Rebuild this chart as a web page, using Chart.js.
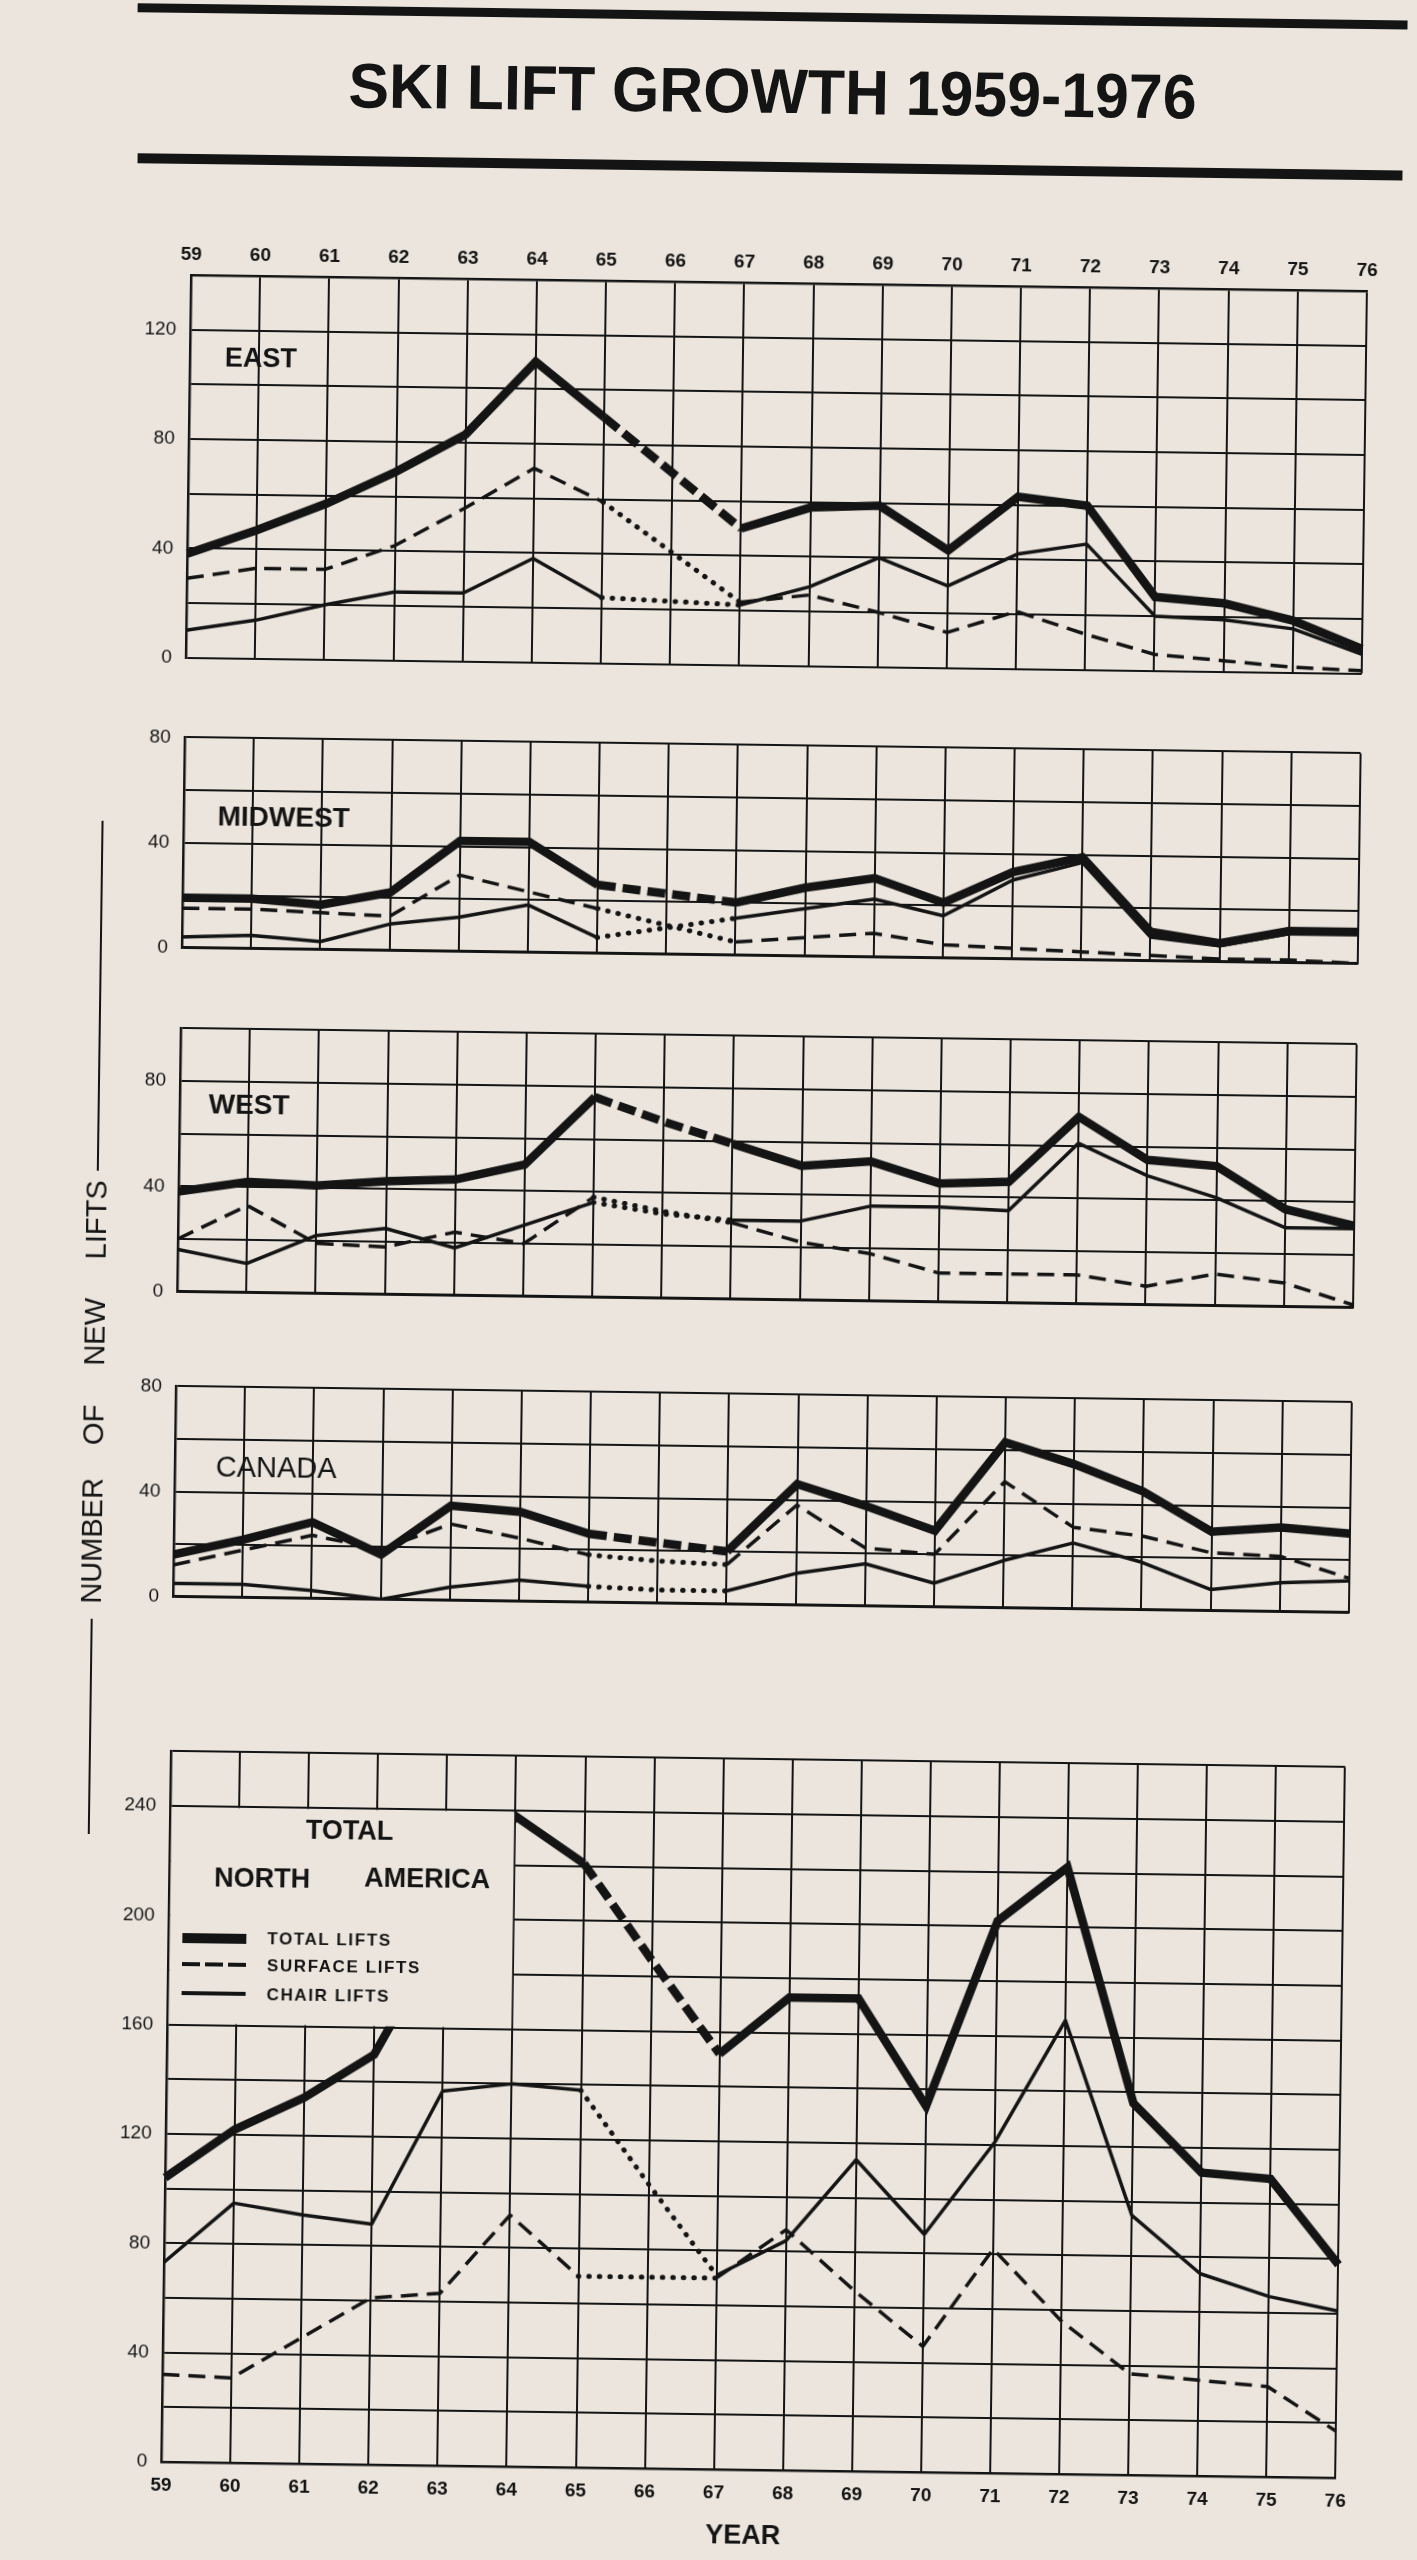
<!DOCTYPE html>
<html>
<head>
<meta charset="utf-8">
<script src="https://cdn.jsdelivr.net/npm/chart.js@4.4.1/dist/chart.umd.min.js"></script>
<style>
html,body{margin:0;padding:0;background:#ebe5dd;}
body{width:1417px;height:2560px;overflow:hidden;position:relative;font-family:"Liberation Sans",Arial,sans-serif;color:#141414;}
#page{position:absolute;left:0;top:0;width:1417px;height:2560px;transform-origin:191px 275px;transform:rotate(0.78deg);}
.abs{position:absolute;white-space:nowrap;}
.rule{position:absolute;background:#141414;}
canvas{position:absolute;}
.vt{position:absolute;width:200px;height:30px;line-height:30px;text-align:center;font-size:29px;transform:rotate(-90deg);white-space:nowrap;}
.lg{position:absolute;font-size:17px;line-height:17px;font-weight:bold;letter-spacing:1.6px;white-space:nowrap;}
</style>
</head>
<body>
<div id="page">
  <div class="rule" style="left:134px;top:4px;width:1270px;height:9px"></div>
  <div class="abs" style="left:170px;top:52px;width:1200px;text-align:center;font-size:63px;line-height:63px;font-weight:bold;transform:scaleX(0.965)">SKI LIFT GROWTH 1959-1976</div>
  <div class="rule" style="left:136px;top:154px;width:1265px;height:10px"></div>

  <canvas id="east"></canvas>
  <canvas id="midwest"></canvas>
  <canvas id="west"></canvas>
  <canvas id="canada"></canvas>
  <canvas id="total"></canvas>

  <div class="abs" style="left:226px;top:344px;font-size:27px;line-height:27px;font-weight:bold">EAST</div>
  <div class="abs" style="left:225px;top:802px;font-size:28px;line-height:28px;font-weight:bold">MIDWEST</div>
  <div class="abs" style="left:220px;top:1090px;font-size:28px;line-height:28px;font-weight:bold">WEST</div>
  <div class="abs" style="left:232px;top:1452px;font-size:29px;line-height:29px">CANADA</div>

  <div class="abs" style="left:327px;top:1815px;font-size:27px;line-height:27px;font-weight:bold">TOTAL</div>
  <div class="abs" style="left:236px;top:1864px;font-size:27px;line-height:27px;font-weight:bold">NORTH</div>
  <div class="abs" style="left:386px;top:1862px;font-size:27px;line-height:27px;font-weight:bold">AMERICA</div>

  <div class="abs" style="left:205px;top:1933px;width:64px;height:10px;background:#141414"></div>
  <div class="abs" style="left:205px;top:1962px;width:64px;height:4px;background:repeating-linear-gradient(90deg,#141414 0 18px,transparent 18px 23px)"></div>
  <div class="abs" style="left:205px;top:1991px;width:64px;height:4px;background:#141414"></div>
  <div class="lg" style="left:290px;top:1929px">TOTAL LIFTS</div>
  <div class="lg" style="left:290px;top:1956px">SURFACE LIFTS</div>
  <div class="lg" style="left:290px;top:1985px">CHAIR LIFTS</div>

  <div class="abs" style="left:109px;top:822px;width:2px;height:350px;background:#141414"></div>
  <div class="vt" style="left:9px;top:1206px">LIFTS</div>
  <div class="vt" style="left:9px;top:1318px">NEW</div>
  <div class="vt" style="left:9px;top:1411px">OF</div>
  <div class="vt" style="left:9px;top:1527px">NUMBER</div>
  <div class="abs" style="left:109px;top:1620px;width:2px;height:215px;background:#141414"></div>

  <div class="abs" style="left:736px;top:2514px;font-size:27px;line-height:27px;font-weight:bold">YEAR</div>
</div>

<script>
// ---------------- DATA ----------------
const years = ['59','60','61','62','63','64','65','66','67','68','69','70','71','72','73','74','75','76'];

const eastTotal   = [38,47,57,69,83,110,90,70,50,58,59,43,63,60,27,25,19,9];
const eastSurface = [29,33,33,42,56,71,59,41,23,26,20,13,21,13,6,4,2,1];
const eastChair   = [10,14,20,25,25,38,24,23,22,29,40,30,42,46,20,19,16,7];

const midwestTotal   = [19,19,17,22,42,42,26,23,20,26,30,21,33,39,11,7,12,12];
const midwestSurface = [15,15,14,13,29,23,17,11,5,7,9,5,4,3,2,1,1,0];
const midwestChair   = [4,5,3,10,13,18,6,10,14,18,22,16,30,37,9,6,11,11];

const westTotal   = [38,42,41,43,44,50,76,67,59,51,53,45,46,71,55,53,37,31];
const westSurface = [20,33,19,18,24,20,38,33,29,22,18,11,11,11,7,12,9,1];
const westChair   = [16,11,22,25,18,27,36,32,30,30,36,36,35,61,49,41,30,30];

const canadaTotal   = [16,22,29,17,36,34,26,23,20,46,38,29,63,55,45,30,32,30];
const canadaSurface = [12,18,24,19,29,24,18,16,15,38,22,20,48,31,28,22,21,13];
const canadaChair   = [5,5,3,0,5,8,6,5,5,12,16,9,18,25,18,8,11,12];

const naTotal   = [104,122,134,150,196,238,221,186,152,173,173,134,202,222,136,111,109,78];
const naSurface = [32,31,46,61,63,92,70,70,70,88,66,46,82,56,37,35,33,17];
const naChair   = [73,95,91,88,137,140,138,104,71,84,114,87,121,166,95,74,66,61];

const eastTicks    = [0,40,80,120];
const midwestTicks = [0,40,80];
const westTicks    = [0,40,80];
const canadaTicks  = [0,40,80];
const naTicks      = [0,40,80,120,160,200,240];

const eastMax = 140, midwestMax = 80, westMax = 100, canadaMax = 80, naMax = 260;

// years whose connecting segments are drawn as estimates (dashed / dotted)
const estimateFrom = '65', estimateTo = '67';
// blank area behind the legend in the total panel
const legendBoxYears = ['59','64'];
const legendBoxRange = [160, 240];

// ---------------- DRAWING ----------------
const INK = '#141414';
const PAPER = '#ebe5dd';
const FONT = "'Liberation Sans', Arial, sans-serif";

const gFrom = years.indexOf(estimateFrom), gTo = years.indexOf(estimateTo);
function isEst(c){ return c.p0DataIndex >= gFrom && c.p1DataIndex <= gTo; }

function makeDatasets(total, surface, chair){
  const thin = {borderColor: INK, pointRadius: 0, tension: 0, fill: false, borderJoinStyle: 'round'};
  return [
    {label:'Total lifts', data: total, borderColor: INK, borderWidth: 8.5, pointRadius: 0, tension: 0, fill: false,
     borderJoinStyle: 'miter',
     segment: {borderDash: c => isEst(c) ? [18, 7] : undefined}},
    Object.assign({label:'Surface lifts', data: surface, borderWidth: 3.5, borderDash: [17, 9],
     segment: {borderDash: c => isEst(c) ? [0.5, 10] : undefined,
               borderCapStyle: c => isEst(c) ? 'round' : undefined,
               borderWidth: c => isEst(c) ? 5 : undefined}}, thin),
    Object.assign({label:'Chair lifts', data: chair, borderWidth: 3.5,
     segment: {borderDash: c => isEst(c) ? [0.5, 10] : undefined,
               borderCapStyle: c => isEst(c) ? 'round' : undefined,
               borderWidth: c => isEst(c) ? 5 : undefined}}, thin)
  ];
}

const legendBlank = {
  id: 'legendBlank',
  afterDatasetsDraw(chart){
    const {ctx, scales:{x, y}} = chart;
    const x0 = x.getPixelForValue(years.indexOf(legendBoxYears[0])) + 1.6;
    const x1 = x.getPixelForValue(years.indexOf(legendBoxYears[1])) - 1.2;
    const y0 = y.getPixelForValue(legendBoxRange[1]) + 1.2;
    const y1 = y.getPixelForValue(legendBoxRange[0]) - 1.2;
    ctx.save();
    ctx.fillStyle = PAPER;
    ctx.fillRect(x0, y0, x1 - x0, y1 - y0);
    ctx.restore();
  }
};

function makePanel(id, box, max, tickList, total, surface, chair, xPos, extra){
  const axisH = xPos === 'top' ? 34 : (xPos === 'bottom' ? 36 : 0);
  const padTop = 20 + (xPos === 'top' ? axisH : 0);
  const padBot = 20 + (xPos === 'bottom' ? axisH : 0);
  const W = box.w + 100, H = box.h + padTop + padBot;
  const cv = document.getElementById(id);
  cv.width = W; cv.height = H;
  cv.style.width = W + 'px'; cv.style.height = H + 'px';
  cv.style.left = (box.l - 80) + 'px';
  cv.style.top = (box.t - padTop) + 'px';
  new Chart(cv, {
    type: 'line',
    data: {labels: years, datasets: makeDatasets(total, surface, chair)},
    options: {
      responsive: false, animation: false, devicePixelRatio: 1,
      layout: {padding: {left: 0, right: 20, top: 20, bottom: 20}},
      plugins: {legend: {display: false}, tooltip: {enabled: false}},
      scales: {
        x: {
          type: 'category', position: xPos || 'bottom', offset: false,
          grid: {color: INK, lineWidth: 2, drawTicks: false},
          border: {display: true, color: INK, width: 2.5},
          ticks: {display: !!xPos, autoSkip: false, maxRotation: 0, minRotation: 0,
                  padding: xPos === 'top' ? 9 : 12, color: INK,
                  font: {family: FONT, size: 19, weight: 'bold'}},
          afterFit: s => { s.height = axisH; }
        },
        y: {
          min: 0, max: max,
          grid: {color: INK, lineWidth: 2, drawTicks: false},
          border: {display: true, color: INK, width: 2.5},
          ticks: {stepSize: 20, padding: 14, color: INK, font: {family: FONT, size: 19},
                  callback: v => tickList.includes(v) ? String(v) : ''},
          afterFit: s => { s.width = 80; }
        }
      }
    },
    plugins: extra ? [extra] : []
  });
}

makePanel('east',    {l:191, t:275,  w:1176, h:388}, eastMax,    eastTicks,    eastTotal,    eastSurface,    eastChair,    'top');
makePanel('midwest', {l:191, t:732,  w:1176, h:221}, midwestMax, midwestTicks, midwestTotal, midwestSurface, midwestChair, null);
makePanel('west',    {l:191, t:1023, w:1176, h:274}, westMax,    westTicks,    westTotal,    westSurface,    westChair,    null);
makePanel('canada',  {l:191, t:1381, w:1176, h:221}, canadaMax,  canadaTicks,  canadaTotal,  canadaSurface,  canadaChair,  null);
makePanel('total',   {l:191, t:1746, w:1177, h:716}, naMax,      naTicks,      naTotal,      naSurface,      naChair,      'bottom', legendBlank);
</script>
</body>
</html>
